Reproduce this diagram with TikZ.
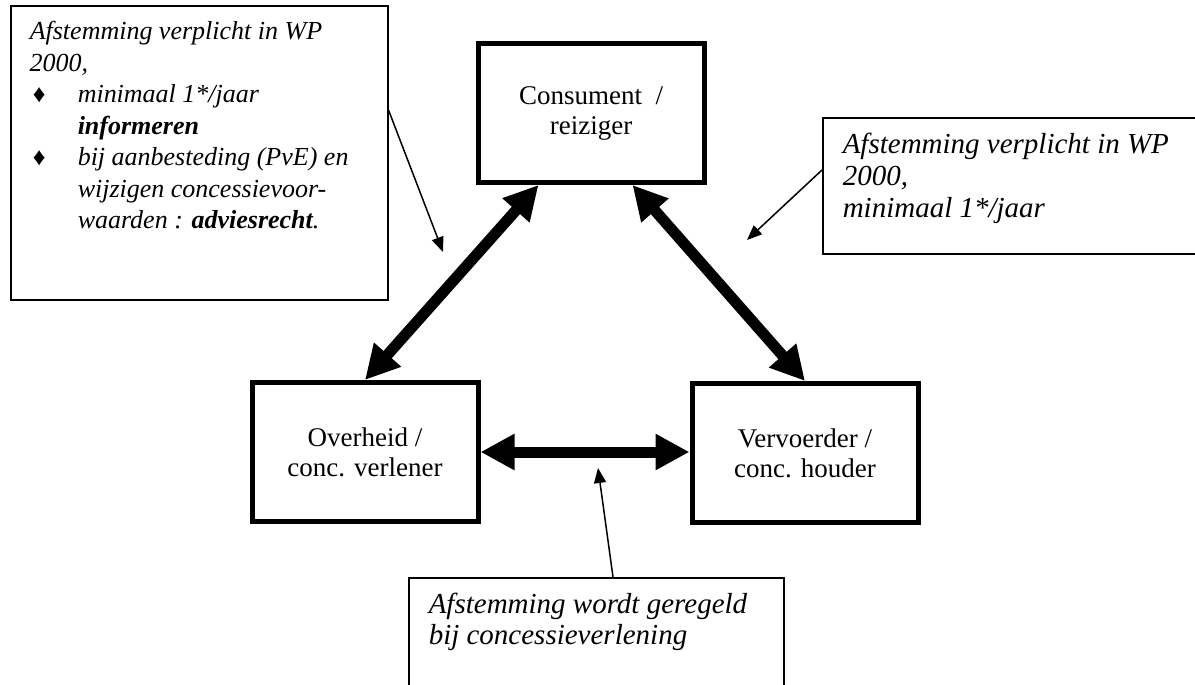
\documentclass[tikz,border=0pt]{standalone}
\usepackage{fontspec}
\setmainfont{Liberation Serif}
\usetikzlibrary{arrows.meta}

\tikzset{
  party/.style={draw, line width=2.5pt, minimum width=113pt, minimum height=69.5pt,
    inner sep=0pt, align=center, font=\fontsize{13.5}{15}\selectfont},
  callout/.style={draw, line width=0.75pt, inner sep=0pt, anchor=north west},
  fat/.style={line width=5.5pt, {Triangle[length=17pt,width=17pt]}-{Triangle[length=17pt,width=17pt]}},
  pointer/.style={line width=0.75pt, -{Triangle[length=7.5pt,width=6pt]}}
}
\newcommand{\ruit}{{\fontsize{12.5}{12}\selectfont\upshape ♦}}

\begin{document}
\begin{tikzpicture}[x=0.5pt, y=-0.5pt]
  \clip (0,0) rectangle (1195,685);

  % de drie partijen
  \node[party] (cons) at (591,113) {Consument~~/\\reiziger};
  \node[party] (over) at (365,452) {Overheid /\\conc. verlener};
  \node[party] (verv) at (805,453) {Vervoerder /\\conc. houder};

  % toelichtingen
  \node[callout] (lcall) at (10,5) {\parbox[c][147pt][t]{188.5pt}{%
    \fontsize{13}{15.75}\selectfont\itshape\raggedright\leftskip=9.5pt
    \vspace*{6pt}\strut Afstemming verplicht in WP\\
    2000,\\
    \hspace*{1.5pt}\makebox[22.5pt][l]{\ruit}minimaal 1*/jaar\\
    \hspace*{24pt}\textbf{informeren}\\
    \hspace*{1.5pt}\makebox[22.5pt][l]{\ruit}bij aanbesteding (PvE) en\\
    \hspace*{24pt}wijzigen concessievoor-\\
    \hspace*{24pt}waarden : \textbf{adviesrecht}.}};
  \node[callout] (rcall) at (822,117) {\parbox[c][68pt][t]{194pt}{%
    \fontsize{14.5}{16}\selectfont\itshape\raggedright\leftskip=10pt
    \vspace*{6.8pt}\strut Afstemming verplicht in WP\\
    2000,\\
    minimaal 1*/jaar}};
  \node[callout] (bcall) at (408,577) {\parbox[c][61.5pt][t]{187.5pt}{%
    \fontsize{14.5}{15.5}\selectfont\itshape\raggedright\leftskip=10pt
    \vspace*{7.15pt}\strut Afstemming wordt geregeld\\
    bij concessieverlening}};

  % relaties
  \draw[fat] ([xshift=31.5pt]cons.south west) -- (over.north);
  \draw[fat] ([xshift=-37pt]cons.south east) -- (verv.north);
  \draw[fat] (over.east) -- (over.east -| verv.west);

  % verwijzingen
  \coordinate (ltip) at (443,252);
  \coordinate (rtip) at (747,240);
  \coordinate (btip) at (598,468);
  \draw[pointer] ([yshift=-52.5pt]lcall.north east) -- (ltip);
  \draw[pointer] ([yshift=-26.5pt]rcall.north west) -- (rtip);
  \draw[pointer] ([xshift=102.5pt]bcall.north west) -- (btip);
\end{tikzpicture}
\end{document}
